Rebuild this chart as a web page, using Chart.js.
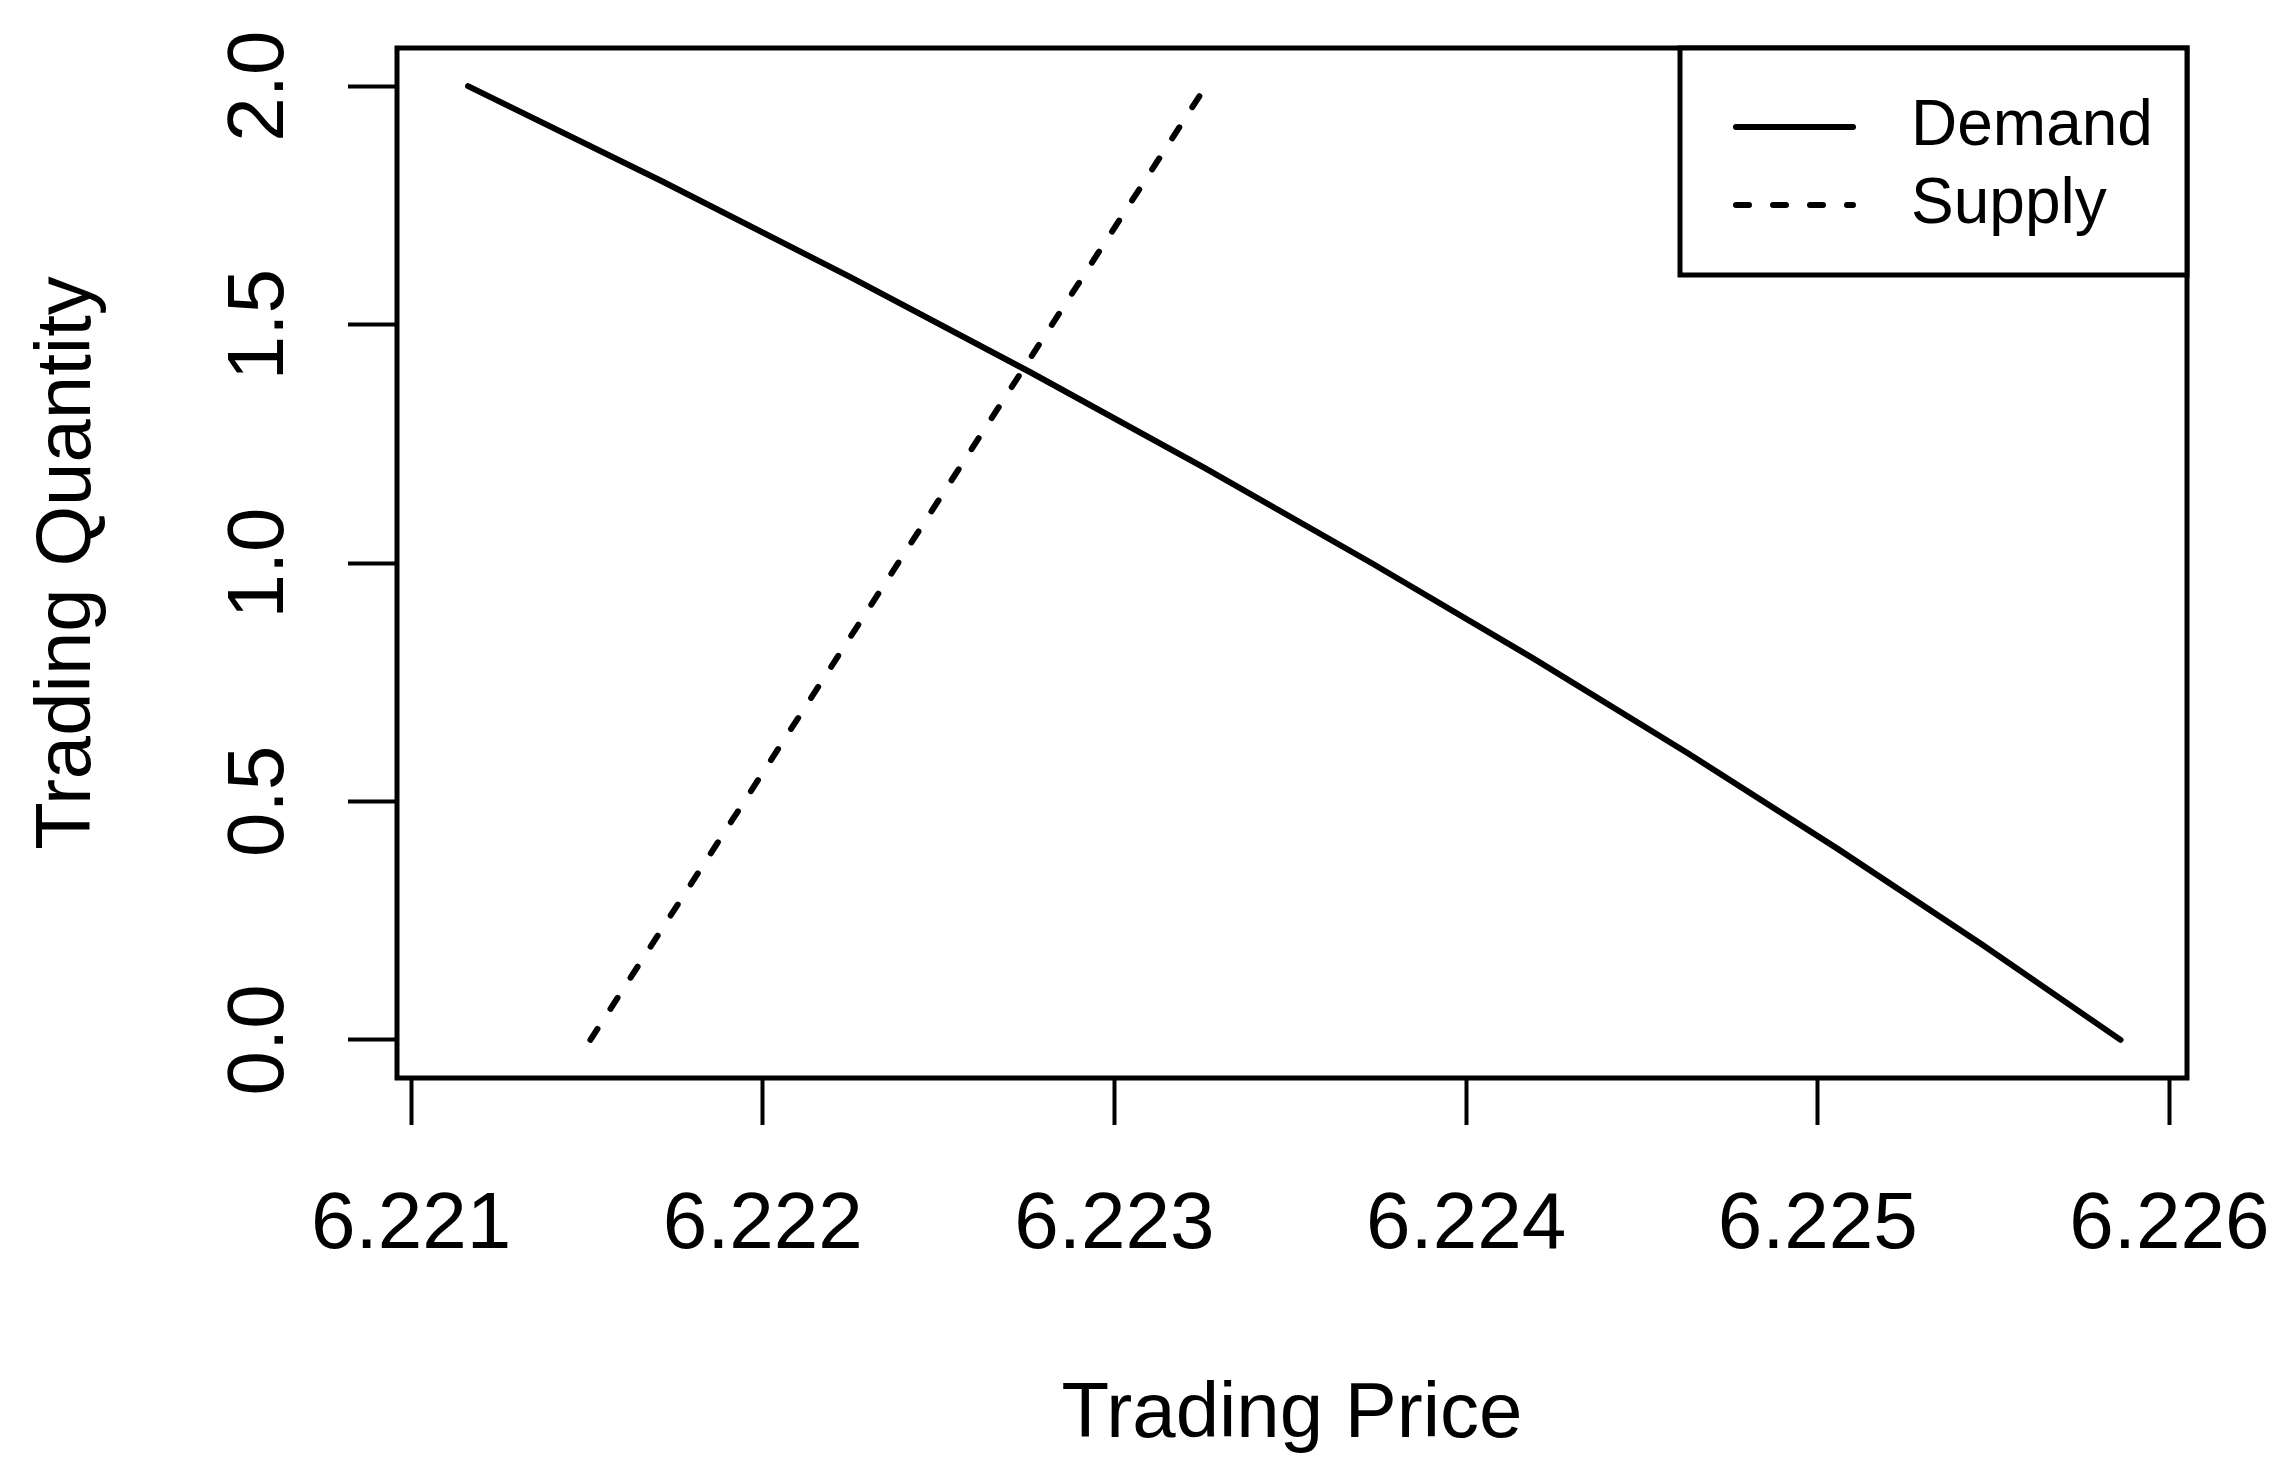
<!DOCTYPE html>
<html lang="en">
<head>
  <meta charset="UTF-8" />
  <title>Trading Price vs Quantity</title>
  <script src="https://cdn.jsdelivr.net/npm/chart.js"></script>
  <style>
    html, body { margin: 0; padding: 0; background: #fff; }
    #wrap { width: 2291px; height: 1481px; position: relative; }
  </style>
</head>
<body>
  <div id="wrap"><canvas id="chart"></canvas></div>

  <script>
    // values
    const demandPrice = [6.221162, 6.221715, 6.222248, 6.222761, 6.223255, 6.223731, 6.224191, 6.224633, 6.225058, 6.225467, 6.225861];
    const demandQty   = [2.0, 1.8, 1.6, 1.4, 1.2, 1.0, 0.8, 0.6, 0.4, 0.2, 0.0];
    const supplyPrice = [6.22151, 6.22326];
    const supplyQty   = [0.0, 2.0];

    const xTicks = [6.221, 6.222, 6.223, 6.224, 6.225, 6.226];
    const yTicks = [0.0, 0.5, 1.0, 1.5, 2.0];

    const FONT = '"Liberation Sans", Arial, sans-serif';

    const toPoints = (xs, ys) => xs.map((x, i) => ({ x, y: ys[i] }));

    // box, rotated y labels and legend, drawn like base R
    const rStyle = {
      id: 'rStyle',
      afterDraw(chart) {
        const { ctx, chartArea: a, scales } = chart;
        ctx.save();
        ctx.strokeStyle = '#000';
        ctx.lineWidth = 5;
        ctx.strokeRect(a.left, a.top, a.right - a.left, a.bottom - a.top);

        // y tick labels, rotated
        ctx.fillStyle = '#000';
        ctx.font = '80px ' + FONT;
        ctx.textAlign = 'center';
        ctx.textBaseline = 'middle';
        scales.y.ticks.forEach(t => {
          const py = scales.y.getPixelForValue(t.value);
          ctx.save();
          ctx.translate(261, py);
          ctx.rotate(-Math.PI / 2);
          ctx.fillText(t.value.toFixed(1), 0, 0);
          ctx.restore();
        });

        // legend
        const lx = 1680, ly = a.top, lw = a.right - lx, lh = 227;
        ctx.fillStyle = '#fff';
        ctx.fillRect(lx, ly, lw, lh);
        ctx.strokeRect(lx, ly, lw, lh);
        const rows = [127, 205];
        chart.data.datasets.forEach((ds, i) => {
          ctx.beginPath();
          ctx.lineWidth = ds.borderWidth;
          ctx.lineCap = 'round';
          ctx.setLineDash(ds.borderDash || []);
          ctx.moveTo(1736, rows[i]);
          ctx.lineTo(1853, rows[i]);
          ctx.stroke();
          ctx.setLineDash([]);
          ctx.fillStyle = '#000';
          ctx.font = '64px ' + FONT;
          ctx.textAlign = 'left';
          ctx.textBaseline = 'middle';
          ctx.fillText(ds.label, 1911, rows[i]);
        });
        ctx.restore();
      }
    };

    new Chart(document.getElementById('chart'), {
      type: 'line',
      data: {
        datasets: [
          {
            label: 'Demand',
            data: toPoints(demandPrice, demandQty),
            borderColor: '#000',
            borderWidth: 6,
            borderCapStyle: 'round',
            borderJoinStyle: 'round',
            pointRadius: 0,
            tension: 0,
            fill: false
          },
          {
            label: 'Supply',
            data: toPoints(supplyPrice, supplyQty),
            borderColor: '#000',
            borderWidth: 6,
            borderDash: [13, 24],
            borderCapStyle: 'round',
            pointRadius: 0,
            tension: 0,
            fill: false
          }
        ]
      },
      options: {
        responsive: true,
        maintainAspectRatio: false,
        animation: false,
        layout: { padding: { top: 48, right: 104, left: 0, bottom: 0 } },
        plugins: {
          legend: { display: false },
          tooltip: { enabled: false }
        },
        scales: {
          x: {
            type: 'linear',
            min: 6.22096,
            max: 6.22605,
            afterBuildTicks: s => { s.ticks = xTicks.map(v => ({ value: v })); },
            afterFit: s => { s.height = 403; s.paddingLeft = 0; s.paddingRight = 0; },
            border: { display: false },
            grid: { drawOnChartArea: false, drawTicks: true, tickLength: 47, tickWidth: 4, tickColor: '#000' },
            ticks: {
              color: '#000',
              font: { family: FONT, size: 80 },
              padding: 53,
              maxRotation: 0,
              autoSkip: false,
              callback: v => v.toFixed(3)
            },
            title: {
              display: true,
              text: 'Trading Price',
              color: '#000',
              font: { family: FONT, size: 78 },
              padding: { top: 0, bottom: 19 }
            }
          },
          y: {
            type: 'linear',
            min: -0.08,
            max: 2.08,
            afterBuildTicks: s => { s.ticks = yTicks.map(v => ({ value: v })); },
            afterFit: s => { s.width = 397; s.paddingTop = 0; s.paddingBottom = 0; },
            border: { display: false },
            grid: { drawOnChartArea: false, drawTicks: true, tickLength: 49, tickWidth: 4, tickColor: '#000' },
            ticks: { display: false },
            title: {
              display: true,
              text: 'Trading Quantity',
              color: '#000',
              font: { family: FONT, size: 78 },
              padding: { top: 22, bottom: 0 }
            }
          }
        }
      },
      plugins: [rStyle]
    });
  </script>
</body>
</html>
